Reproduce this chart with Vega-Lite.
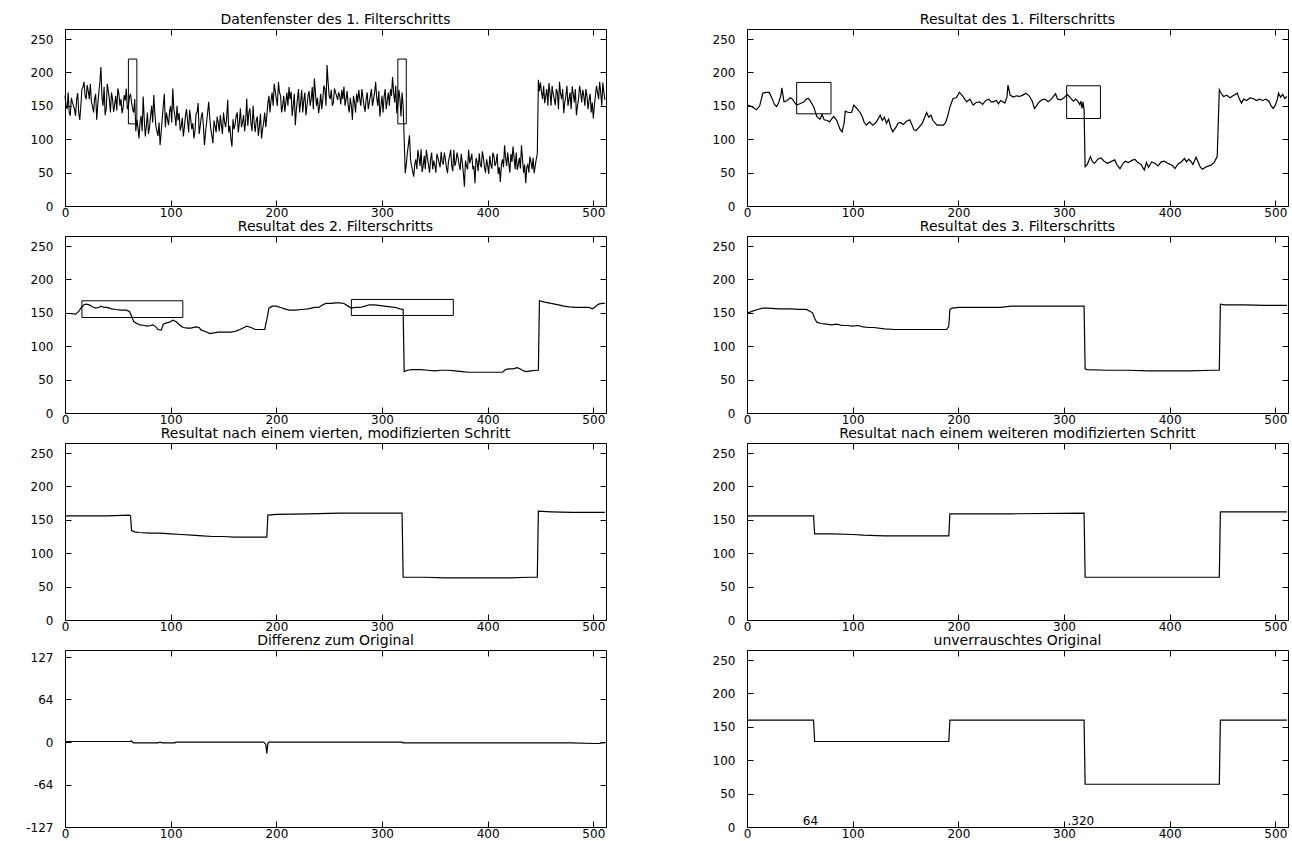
{
"$schema": "https://vega.github.io/schema/vega-lite/v6.json",
"padding": {"left": 25, "top": 12, "right": 5, "bottom": 5},
"background": "white",
"datasets": {
"p1": [{"x":0,"y":165},{"x":1,"y":150},{"x":2,"y":145},{"x":3,"y":170},{"x":4,"y":140},{"x":5,"y":135},{"x":6,"y":162},{"x":7,"y":155},{"x":8,"y":150},{"x":9,"y":145},{"x":10,"y":135},{"x":11,"y":160},{"x":12,"y":169},{"x":13,"y":140},{"x":14,"y":129},{"x":15,"y":150},{"x":16,"y":175},{"x":17,"y":178},{"x":18,"y":186},{"x":19,"y":165},{"x":20,"y":160},{"x":21,"y":181},{"x":22,"y":172},{"x":23,"y":160},{"x":24,"y":183},{"x":25,"y":155},{"x":26,"y":150},{"x":27,"y":140},{"x":28,"y":160},{"x":29,"y":168},{"x":30,"y":129},{"x":31,"y":152},{"x":32,"y":170},{"x":33,"y":185},{"x":34,"y":208},{"x":35,"y":162},{"x":36,"y":150},{"x":37,"y":178},{"x":38,"y":136},{"x":39,"y":145},{"x":40,"y":183},{"x":41,"y":172},{"x":42,"y":160},{"x":43,"y":140},{"x":44,"y":170},{"x":45,"y":160},{"x":46,"y":141},{"x":47,"y":152},{"x":48,"y":165},{"x":49,"y":143},{"x":50,"y":176},{"x":51,"y":168},{"x":52,"y":150},{"x":53,"y":160},{"x":54,"y":139},{"x":55,"y":147},{"x":56,"y":166},{"x":57,"y":158},{"x":58,"y":176},{"x":59,"y":145},{"x":60,"y":150},{"x":61,"y":163},{"x":62,"y":168},{"x":63,"y":155},{"x":64,"y":145},{"x":65,"y":140},{"x":66,"y":160},{"x":67,"y":112},{"x":68,"y":129},{"x":69,"y":118},{"x":70,"y":101},{"x":71,"y":125},{"x":72,"y":135},{"x":73,"y":112},{"x":74,"y":164},{"x":75,"y":130},{"x":76,"y":104},{"x":77,"y":120},{"x":78,"y":140},{"x":79,"y":108},{"x":80,"y":118},{"x":81,"y":135},{"x":82,"y":150},{"x":83,"y":125},{"x":84,"y":166},{"x":85,"y":140},{"x":86,"y":120},{"x":87,"y":112},{"x":88,"y":105},{"x":89,"y":125},{"x":90,"y":91},{"x":91,"y":110},{"x":92,"y":130},{"x":93,"y":150},{"x":94,"y":168},{"x":95,"y":118},{"x":96,"y":140},{"x":97,"y":130},{"x":98,"y":121},{"x":99,"y":142},{"x":100,"y":150},{"x":101,"y":125},{"x":102,"y":176},{"x":103,"y":145},{"x":104,"y":135},{"x":105,"y":120},{"x":106,"y":150},{"x":107,"y":128},{"x":108,"y":139},{"x":109,"y":113},{"x":110,"y":120},{"x":111,"y":132},{"x":112,"y":104},{"x":113,"y":118},{"x":114,"y":135},{"x":115,"y":145},{"x":116,"y":128},{"x":117,"y":110},{"x":118,"y":144},{"x":119,"y":130},{"x":120,"y":115},{"x":121,"y":124},{"x":122,"y":101},{"x":123,"y":112},{"x":124,"y":138},{"x":125,"y":140},{"x":126,"y":154},{"x":127,"y":108},{"x":128,"y":120},{"x":129,"y":134},{"x":130,"y":140},{"x":131,"y":120},{"x":132,"y":91},{"x":133,"y":110},{"x":134,"y":125},{"x":135,"y":140},{"x":136,"y":156},{"x":137,"y":132},{"x":138,"y":115},{"x":139,"y":105},{"x":140,"y":94},{"x":141,"y":128},{"x":142,"y":120},{"x":143,"y":110},{"x":144,"y":134},{"x":145,"y":125},{"x":146,"y":112},{"x":147,"y":136},{"x":148,"y":121},{"x":149,"y":108},{"x":150,"y":140},{"x":151,"y":126},{"x":152,"y":118},{"x":153,"y":132},{"x":154,"y":159},{"x":155,"y":110},{"x":156,"y":120},{"x":157,"y":100},{"x":158,"y":89},{"x":159,"y":130},{"x":160,"y":115},{"x":161,"y":122},{"x":162,"y":135},{"x":163,"y":140},{"x":164,"y":110},{"x":165,"y":125},{"x":166,"y":146},{"x":167,"y":118},{"x":168,"y":125},{"x":169,"y":136},{"x":170,"y":112},{"x":171,"y":128},{"x":172,"y":161},{"x":173,"y":120},{"x":174,"y":140},{"x":175,"y":146},{"x":176,"y":124},{"x":177,"y":112},{"x":178,"y":150},{"x":179,"y":125},{"x":180,"y":111},{"x":181,"y":128},{"x":182,"y":134},{"x":183,"y":105},{"x":184,"y":120},{"x":185,"y":138},{"x":186,"y":101},{"x":187,"y":115},{"x":188,"y":125},{"x":189,"y":140},{"x":190,"y":118},{"x":191,"y":135},{"x":192,"y":154},{"x":193,"y":165},{"x":194,"y":140},{"x":195,"y":158},{"x":196,"y":170},{"x":197,"y":150},{"x":198,"y":183},{"x":199,"y":172},{"x":200,"y":160},{"x":201,"y":150},{"x":202,"y":186},{"x":203,"y":170},{"x":204,"y":165},{"x":205,"y":140},{"x":206,"y":150},{"x":207,"y":165},{"x":208,"y":141},{"x":209,"y":155},{"x":210,"y":170},{"x":211,"y":150},{"x":212,"y":178},{"x":213,"y":160},{"x":214,"y":171},{"x":215,"y":135},{"x":216,"y":150},{"x":217,"y":168},{"x":218,"y":121},{"x":219,"y":145},{"x":220,"y":160},{"x":221,"y":175},{"x":222,"y":140},{"x":223,"y":155},{"x":224,"y":174},{"x":225,"y":140},{"x":226,"y":158},{"x":227,"y":170},{"x":228,"y":136},{"x":229,"y":150},{"x":230,"y":165},{"x":231,"y":172},{"x":232,"y":150},{"x":233,"y":160},{"x":234,"y":178},{"x":235,"y":145},{"x":236,"y":191},{"x":237,"y":170},{"x":238,"y":150},{"x":239,"y":162},{"x":240,"y":139},{"x":241,"y":150},{"x":242,"y":168},{"x":243,"y":145},{"x":244,"y":160},{"x":245,"y":180},{"x":246,"y":175},{"x":247,"y":150},{"x":248,"y":211},{"x":249,"y":185},{"x":250,"y":165},{"x":251,"y":160},{"x":252,"y":174},{"x":253,"y":150},{"x":254,"y":155},{"x":255,"y":176},{"x":256,"y":170},{"x":257,"y":165},{"x":258,"y":159},{"x":259,"y":170},{"x":260,"y":165},{"x":261,"y":152},{"x":262,"y":174},{"x":263,"y":160},{"x":264,"y":179},{"x":265,"y":150},{"x":266,"y":160},{"x":267,"y":172},{"x":268,"y":150},{"x":269,"y":140},{"x":270,"y":162},{"x":271,"y":150},{"x":272,"y":129},{"x":273,"y":165},{"x":274,"y":155},{"x":275,"y":140},{"x":276,"y":168},{"x":277,"y":155},{"x":278,"y":174},{"x":279,"y":160},{"x":280,"y":150},{"x":281,"y":175},{"x":282,"y":162},{"x":283,"y":150},{"x":284,"y":141},{"x":285,"y":160},{"x":286,"y":170},{"x":287,"y":145},{"x":288,"y":155},{"x":289,"y":165},{"x":290,"y":175},{"x":291,"y":150},{"x":292,"y":160},{"x":293,"y":170},{"x":294,"y":186},{"x":295,"y":162},{"x":296,"y":150},{"x":297,"y":172},{"x":298,"y":134},{"x":299,"y":150},{"x":300,"y":165},{"x":301,"y":140},{"x":302,"y":164},{"x":303,"y":175},{"x":304,"y":145},{"x":305,"y":158},{"x":306,"y":170},{"x":307,"y":150},{"x":308,"y":175},{"x":309,"y":165},{"x":310,"y":193},{"x":311,"y":170},{"x":312,"y":155},{"x":313,"y":180},{"x":314,"y":139},{"x":315,"y":150},{"x":316,"y":174},{"x":317,"y":160},{"x":318,"y":134},{"x":319,"y":170},{"x":320,"y":150},{"x":321,"y":100},{"x":322,"y":49},{"x":323,"y":62},{"x":324,"y":80},{"x":325,"y":92},{"x":326,"y":106},{"x":327,"y":70},{"x":328,"y":60},{"x":329,"y":52},{"x":330,"y":44},{"x":331,"y":62},{"x":332,"y":70},{"x":333,"y":55},{"x":334,"y":84},{"x":335,"y":72},{"x":336,"y":60},{"x":337,"y":85},{"x":338,"y":51},{"x":339,"y":60},{"x":340,"y":75},{"x":341,"y":55},{"x":342,"y":84},{"x":343,"y":72},{"x":344,"y":62},{"x":345,"y":50},{"x":346,"y":70},{"x":347,"y":80},{"x":348,"y":55},{"x":349,"y":68},{"x":350,"y":61},{"x":351,"y":50},{"x":352,"y":78},{"x":353,"y":72},{"x":354,"y":65},{"x":355,"y":58},{"x":356,"y":81},{"x":357,"y":66},{"x":358,"y":62},{"x":359,"y":80},{"x":360,"y":70},{"x":361,"y":58},{"x":362,"y":49},{"x":363,"y":68},{"x":364,"y":75},{"x":365,"y":84},{"x":366,"y":60},{"x":367,"y":52},{"x":368,"y":84},{"x":369,"y":60},{"x":370,"y":66},{"x":371,"y":80},{"x":372,"y":72},{"x":373,"y":62},{"x":374,"y":54},{"x":375,"y":78},{"x":376,"y":65},{"x":377,"y":50},{"x":378,"y":29},{"x":379,"y":68},{"x":380,"y":60},{"x":381,"y":55},{"x":382,"y":84},{"x":383,"y":64},{"x":384,"y":70},{"x":385,"y":78},{"x":386,"y":55},{"x":387,"y":60},{"x":388,"y":34},{"x":389,"y":72},{"x":390,"y":66},{"x":391,"y":52},{"x":392,"y":79},{"x":393,"y":62},{"x":394,"y":58},{"x":395,"y":82},{"x":396,"y":72},{"x":397,"y":58},{"x":398,"y":50},{"x":399,"y":70},{"x":400,"y":61},{"x":401,"y":48},{"x":402,"y":75},{"x":403,"y":62},{"x":404,"y":56},{"x":405,"y":80},{"x":406,"y":74},{"x":407,"y":60},{"x":408,"y":65},{"x":409,"y":78},{"x":410,"y":48},{"x":411,"y":58},{"x":412,"y":36},{"x":413,"y":62},{"x":414,"y":70},{"x":415,"y":58},{"x":416,"y":91},{"x":417,"y":72},{"x":418,"y":60},{"x":419,"y":80},{"x":420,"y":64},{"x":421,"y":50},{"x":422,"y":78},{"x":423,"y":66},{"x":424,"y":89},{"x":425,"y":72},{"x":426,"y":55},{"x":427,"y":80},{"x":428,"y":54},{"x":429,"y":62},{"x":430,"y":72},{"x":431,"y":56},{"x":432,"y":91},{"x":433,"y":70},{"x":434,"y":50},{"x":435,"y":62},{"x":436,"y":34},{"x":437,"y":58},{"x":438,"y":62},{"x":439,"y":50},{"x":440,"y":74},{"x":441,"y":66},{"x":442,"y":55},{"x":443,"y":72},{"x":444,"y":49},{"x":445,"y":60},{"x":446,"y":70},{"x":447,"y":79},{"x":448,"y":189},{"x":449,"y":172},{"x":450,"y":185},{"x":451,"y":170},{"x":452,"y":160},{"x":453,"y":180},{"x":454,"y":154},{"x":455,"y":165},{"x":456,"y":175},{"x":457,"y":150},{"x":458,"y":184},{"x":459,"y":170},{"x":460,"y":150},{"x":461,"y":180},{"x":462,"y":168},{"x":463,"y":160},{"x":464,"y":151},{"x":465,"y":175},{"x":466,"y":170},{"x":467,"y":145},{"x":468,"y":186},{"x":469,"y":168},{"x":470,"y":160},{"x":471,"y":175},{"x":472,"y":139},{"x":473,"y":155},{"x":474,"y":165},{"x":475,"y":180},{"x":476,"y":150},{"x":477,"y":160},{"x":478,"y":170},{"x":479,"y":145},{"x":480,"y":179},{"x":481,"y":168},{"x":482,"y":155},{"x":483,"y":175},{"x":484,"y":136},{"x":485,"y":150},{"x":486,"y":160},{"x":487,"y":180},{"x":488,"y":170},{"x":489,"y":155},{"x":490,"y":174},{"x":491,"y":165},{"x":492,"y":150},{"x":493,"y":175},{"x":494,"y":165},{"x":495,"y":145},{"x":496,"y":159},{"x":497,"y":168},{"x":498,"y":140},{"x":499,"y":155},{"x":500,"y":131},{"x":501,"y":150},{"x":502,"y":165},{"x":503,"y":180},{"x":504,"y":170},{"x":505,"y":160},{"x":506,"y":186},{"x":507,"y":170},{"x":508,"y":150},{"x":509,"y":185},{"x":510,"y":170},{"x":511,"y":159}],
"p2": [{"x":0,"y":151},{"x":3,"y":150},{"x":6,"y":147},{"x":9,"y":144},{"x":12,"y":150},{"x":15,"y":169},{"x":18,"y":170},{"x":21,"y":170},{"x":24,"y":160},{"x":26,"y":152},{"x":28,"y":149},{"x":30,"y":155},{"x":32,"y":165},{"x":33,"y":177},{"x":35,"y":156},{"x":38,"y":158},{"x":41,"y":162},{"x":43,"y":160},{"x":45,"y":155},{"x":47,"y":151},{"x":50,"y":153},{"x":54,"y":156},{"x":56,"y":160},{"x":58,"y":161},{"x":60,"y":157},{"x":63,"y":149},{"x":66,"y":134},{"x":69,"y":130},{"x":71,"y":137},{"x":73,"y":129},{"x":76,"y":128},{"x":78,"y":126},{"x":80,"y":130},{"x":82,"y":134},{"x":85,"y":128},{"x":88,"y":115},{"x":90,"y":111},{"x":92,"y":125},{"x":93,"y":142},{"x":96,"y":140},{"x":99,"y":140},{"x":101,"y":151},{"x":104,"y":146},{"x":107,"y":140},{"x":109,"y":134},{"x":111,"y":125},{"x":113,"y":121},{"x":116,"y":126},{"x":119,"y":121},{"x":122,"y":125},{"x":124,"y":130},{"x":126,"y":136},{"x":128,"y":128},{"x":130,"y":133},{"x":132,"y":124},{"x":134,"y":130},{"x":136,"y":118},{"x":138,"y":111},{"x":141,"y":118},{"x":143,"y":124},{"x":145,"y":125},{"x":148,"y":122},{"x":151,"y":127},{"x":154,"y":129},{"x":156,"y":122},{"x":158,"y":114},{"x":160,"y":113},{"x":163,"y":118},{"x":166,"y":124},{"x":168,"y":132},{"x":170,"y":140},{"x":172,"y":133},{"x":174,"y":136},{"x":176,"y":128},{"x":178,"y":124},{"x":180,"y":121},{"x":183,"y":121},{"x":186,"y":121},{"x":188,"y":125},{"x":190,"y":135},{"x":192,"y":148},{"x":195,"y":161},{"x":198,"y":162},{"x":201,"y":170},{"x":204,"y":165},{"x":206,"y":160},{"x":208,"y":156},{"x":211,"y":160},{"x":214,"y":151},{"x":217,"y":155},{"x":220,"y":156},{"x":223,"y":152},{"x":226,"y":158},{"x":229,"y":160},{"x":231,"y":156},{"x":233,"y":156},{"x":236,"y":158},{"x":238,"y":153},{"x":240,"y":158},{"x":242,"y":156},{"x":244,"y":154},{"x":246,"y":163},{"x":247,"y":181},{"x":249,"y":166},{"x":252,"y":163},{"x":255,"y":165},{"x":258,"y":164},{"x":261,"y":166},{"x":264,"y":169},{"x":267,"y":165},{"x":270,"y":157},{"x":272,"y":146},{"x":274,"y":150},{"x":276,"y":155},{"x":279,"y":159},{"x":282,"y":160},{"x":285,"y":156},{"x":288,"y":160},{"x":290,"y":164},{"x":292,"y":168},{"x":294,"y":160},{"x":297,"y":159},{"x":300,"y":162},{"x":303,"y":167},{"x":305,"y":164},{"x":307,"y":160},{"x":309,"y":157},{"x":311,"y":160},{"x":313,"y":157},{"x":315,"y":152},{"x":316,"y":157},{"x":317,"y":146},{"x":318,"y":156},{"x":319,"y":144},{"x":320,"y":59},{"x":322,"y":62},{"x":325,"y":74},{"x":327,"y":66},{"x":329,"y":64},{"x":332,"y":70},{"x":335,"y":72},{"x":338,"y":67},{"x":341,"y":64},{"x":344,"y":66},{"x":348,"y":69},{"x":350,"y":62},{"x":353,"y":56},{"x":356,"y":64},{"x":358,"y":67},{"x":361,"y":65},{"x":364,"y":68},{"x":367,"y":70},{"x":370,"y":65},{"x":373,"y":62},{"x":376,"y":54},{"x":378,"y":65},{"x":380,"y":58},{"x":383,"y":66},{"x":386,"y":64},{"x":389,"y":60},{"x":392,"y":66},{"x":395,"y":67},{"x":398,"y":64},{"x":401,"y":62},{"x":403,"y":60},{"x":405,"y":56},{"x":408,"y":63},{"x":411,"y":66},{"x":414,"y":71},{"x":416,"y":66},{"x":418,"y":70},{"x":420,"y":67},{"x":422,"y":62},{"x":425,"y":73},{"x":427,"y":66},{"x":429,"y":58},{"x":431,"y":55},{"x":434,"y":58},{"x":437,"y":60},{"x":439,"y":61},{"x":442,"y":65},{"x":445,"y":74},{"x":447,"y":174},{"x":449,"y":168},{"x":451,"y":164},{"x":454,"y":166},{"x":457,"y":162},{"x":460,"y":165},{"x":464,"y":169},{"x":466,"y":160},{"x":468,"y":154},{"x":470,"y":160},{"x":473,"y":158},{"x":476,"y":162},{"x":479,"y":161},{"x":482,"y":158},{"x":485,"y":160},{"x":488,"y":158},{"x":491,"y":160},{"x":494,"y":157},{"x":496,"y":150},{"x":498,"y":146},{"x":500,"y":151},{"x":502,"y":160},{"x":503,"y":169},{"x":505,"y":163},{"x":507,"y":167},{"x":509,"y":161},{"x":511,"y":164}],
"p3": [{"x":0,"y":149},{"x":5,"y":149},{"x":10,"y":148},{"x":13,"y":152},{"x":15,"y":157},{"x":18,"y":162},{"x":20,"y":163},{"x":23,"y":162},{"x":26,"y":159},{"x":29,"y":157},{"x":32,"y":158},{"x":34,"y":160},{"x":37,"y":158},{"x":40,"y":158},{"x":44,"y":156},{"x":48,"y":155},{"x":53,"y":154},{"x":58,"y":154},{"x":61,"y":152},{"x":63,"y":145},{"x":65,"y":137},{"x":68,"y":134},{"x":71,"y":132},{"x":75,"y":131},{"x":78,"y":130},{"x":81,"y":131},{"x":83,"y":132},{"x":86,"y":129},{"x":88,"y":125},{"x":91,"y":124},{"x":92,"y":128},{"x":93,"y":133},{"x":96,"y":135},{"x":99,"y":136},{"x":102,"y":139},{"x":105,"y":137},{"x":107,"y":134},{"x":110,"y":130},{"x":112,"y":128},{"x":116,"y":127},{"x":119,"y":127},{"x":124,"y":129},{"x":127,"y":128},{"x":129,"y":124},{"x":133,"y":122},{"x":137,"y":119},{"x":141,"y":120},{"x":145,"y":121},{"x":150,"y":121},{"x":157,"y":121},{"x":161,"y":122},{"x":164,"y":124},{"x":168,"y":127},{"x":172,"y":130},{"x":176,"y":128},{"x":180,"y":125},{"x":185,"y":125},{"x":189,"y":125},{"x":191,"y":140},{"x":193,"y":157},{"x":196,"y":160},{"x":200,"y":160},{"x":204,"y":158},{"x":208,"y":156},{"x":212,"y":154},{"x":218,"y":154},{"x":224,"y":155},{"x":230,"y":156},{"x":236,"y":158},{"x":240,"y":158},{"x":244,"y":162},{"x":247,"y":164},{"x":252,"y":164},{"x":256,"y":165},{"x":260,"y":165},{"x":264,"y":164},{"x":268,"y":160},{"x":271,"y":157},{"x":275,"y":158},{"x":279,"y":158},{"x":284,"y":160},{"x":288,"y":162},{"x":292,"y":162},{"x":297,"y":161},{"x":302,"y":160},{"x":308,"y":159},{"x":313,"y":158},{"x":317,"y":156},{"x":320,"y":155},{"x":321,"y":62},{"x":324,"y":64},{"x":328,"y":65},{"x":333,"y":65},{"x":337,"y":65},{"x":343,"y":64},{"x":350,"y":63},{"x":356,"y":64},{"x":363,"y":64},{"x":369,"y":63},{"x":376,"y":62},{"x":382,"y":61},{"x":388,"y":61},{"x":395,"y":61},{"x":401,"y":61},{"x":408,"y":61},{"x":414,"y":61},{"x":417,"y":65},{"x":420,"y":66},{"x":424,"y":66},{"x":428,"y":68},{"x":431,"y":66},{"x":434,"y":63},{"x":437,"y":62},{"x":441,"y":63},{"x":446,"y":64},{"x":448,"y":64},{"x":449,"y":168},{"x":454,"y":166},{"x":460,"y":164},{"x":467,"y":162},{"x":472,"y":160},{"x":477,"y":159},{"x":484,"y":158},{"x":490,"y":158},{"x":496,"y":158},{"x":499,"y":156},{"x":502,"y":159},{"x":505,"y":163},{"x":508,"y":164},{"x":511,"y":164}],
"p4": [{"x":0,"y":150},{"x":3,"y":151},{"x":6,"y":153},{"x":10,"y":155},{"x":15,"y":157},{"x":20,"y":157},{"x":30,"y":156},{"x":40,"y":156},{"x":50,"y":155},{"x":56,"y":155},{"x":60,"y":152},{"x":62,"y":150},{"x":64,"y":142},{"x":66,"y":136},{"x":70,"y":134},{"x":75,"y":133},{"x":80,"y":132},{"x":85,"y":133},{"x":90,"y":131},{"x":95,"y":131},{"x":100,"y":130},{"x":105,"y":131},{"x":110,"y":129},{"x":115,"y":128},{"x":120,"y":128},{"x":130,"y":126},{"x":140,"y":125},{"x":150,"y":125},{"x":160,"y":125},{"x":170,"y":125},{"x":180,"y":125},{"x":189,"y":125},{"x":191,"y":130},{"x":192,"y":155},{"x":194,"y":157},{"x":200,"y":158},{"x":220,"y":158},{"x":240,"y":158},{"x":250,"y":160},{"x":280,"y":160},{"x":300,"y":160},{"x":319,"y":160},{"x":320,"y":66},{"x":322,"y":65},{"x":340,"y":64},{"x":360,"y":64},{"x":380,"y":63},{"x":400,"y":63},{"x":420,"y":63},{"x":440,"y":64},{"x":447,"y":64},{"x":448,"y":163},{"x":452,"y":162},{"x":470,"y":162},{"x":490,"y":161},{"x":511,"y":161}],
"p5": [{"x":0,"y":156},{"x":20,"y":156},{"x":40,"y":156},{"x":61,"y":157},{"x":62,"y":156},{"x":63,"y":134},{"x":66,"y":132},{"x":70,"y":131},{"x":80,"y":130},{"x":90,"y":130},{"x":100,"y":129},{"x":110,"y":128},{"x":120,"y":127},{"x":130,"y":126},{"x":140,"y":125},{"x":150,"y":125},{"x":160,"y":124},{"x":170,"y":124},{"x":180,"y":124},{"x":190,"y":124},{"x":191,"y":124},{"x":192,"y":157},{"x":200,"y":158},{"x":230,"y":159},{"x":260,"y":160},{"x":290,"y":160},{"x":319,"y":160},{"x":320,"y":64},{"x":340,"y":64},{"x":360,"y":63},{"x":380,"y":63},{"x":400,"y":63},{"x":420,"y":63},{"x":440,"y":64},{"x":447,"y":64},{"x":448,"y":163},{"x":460,"y":162},{"x":480,"y":161},{"x":511,"y":161}],
"p6": [{"x":0,"y":156},{"x":63,"y":156},{"x":64,"y":129},{"x":80,"y":129},{"x":100,"y":128},{"x":110,"y":127},{"x":130,"y":126},{"x":190,"y":126},{"x":191,"y":126},{"x":192,"y":159},{"x":250,"y":159},{"x":319,"y":160},{"x":320,"y":64},{"x":447,"y":64},{"x":448,"y":162},{"x":511,"y":162}],
"p7": [{"x":0,"y":1},{"x":60,"y":1},{"x":62,"y":1},{"x":63,"y":2},{"x":64,"y":0},{"x":65,"y":-1},{"x":80,"y":-1},{"x":88,"y":-1},{"x":90,"y":0},{"x":92,"y":-1},{"x":100,"y":-1},{"x":104,"y":-1},{"x":105,"y":0},{"x":150,"y":0},{"x":188,"y":0},{"x":190,"y":-3},{"x":191,"y":-17},{"x":192,"y":-2},{"x":193,"y":0},{"x":250,"y":0},{"x":319,"y":0},{"x":320,"y":-1},{"x":400,"y":-1},{"x":447,"y":-1},{"x":448,"y":-1},{"x":480,"y":-1},{"x":500,"y":-2},{"x":505,"y":-2},{"x":508,"y":-1},{"x":511,"y":-1}],
"p8": [{"x":0,"y":160},{"x":63,"y":160},{"x":64,"y":128},{"x":191,"y":128},{"x":192,"y":160},{"x":319,"y":160},{"x":320,"y":64},{"x":447,"y":64},{"x":448,"y":160},{"x":511,"y":160}],
"b1": [{"x1":60,"x2":68,"y1":123,"y2":220},{"x1":315,"x2":323,"y1":123,"y2":220}],
"b2": [{"x1":47,"x2":79.5,"y1":138,"y2":185},{"x1":302.5,"x2":334.5,"y1":131,"y2":180}],
"b3": [{"x1":16,"x2":111.5,"y1":143,"y2":168},{"x1":271,"x2":367.5,"y1":146,"y2":170}],
"t8": [{"x":60,"y":3,"label":"64"},{"x":316,"y":3,"label":".320"}]
},
"config": {
  "view": {"stroke": "black", "strokeWidth": 1},
  "font": "DejaVu Sans",
  "title": {"font": "DejaVu Sans", "fontSize": 14, "fontWeight": "normal", "color": "black", "offset": 2},
  "axis": {"domain": false, "grid": false, "ticks": true, "tickSize": 6, "offset": -6, "tickColor": "black", "tickWidth": 1, "labelFont": "DejaVu Sans", "labelFontSize": 12, "labelColor": "black", "labelFlush": false, "labelOverlap": false, "title": null},
  "axisX": {"labelPadding": 1},
  "axisY": {"labelPadding": 12},
  "line": {"color": "black", "strokeWidth": 1.2}
},
"columns": 2,
"spacing": {"row": 30, "column": 141},
"bounds": "flush",
"concat": [
 {"title": "Datenfenster des 1. Filterschritts", "width": 541, "height": 177,
  "resolve": {"axis": {"x": "independent", "y": "independent"}},
  "layer": [
   {"data": {"name": "p1"}, "mark": {"type": "line", "strokeWidth": 1.1},
    "encoding": {"x": {"field": "x", "type": "quantitative", "scale": {"domain": [0, 512], "nice": false, "zero": false}, "axis": {"orient": "bottom", "values": [0,100,200,300,400,500], "title": null}},
                 "y": {"field": "y", "type": "quantitative", "scale": {"domain": [0, 265], "nice": false, "zero": false}, "axis": {"orient": "left", "values": [0,50,100,150,200,250], "title": null}}}},
   {"data": {"name": "p1"}, "mark": {"type": "line", "opacity": 0},
    "encoding": {"x": {"field": "x", "type": "quantitative", "scale": {"domain": [0, 512], "nice": false, "zero": false}, "axis": {"orient": "top", "labels": false, "values": [0,100,200,300,400,500], "title": null}},
                 "y": {"field": "y", "type": "quantitative", "scale": {"domain": [0, 265], "nice": false, "zero": false}, "axis": {"orient": "right", "labels": false, "values": [0,50,100,150,200,250], "title": null}}}},
   {"data": {"name": "b1"}, "mark": {"type": "rect", "fillOpacity": 0, "stroke": "black", "strokeWidth": 1},
    "encoding": {"x": {"field": "x1", "type": "quantitative", "scale": {"domain": [0, 512], "nice": false, "zero": false}, "axis": null}, "x2": {"field": "x2"},
                 "y": {"field": "y1", "type": "quantitative", "scale": {"domain": [0, 265], "nice": false, "zero": false}, "axis": null}, "y2": {"field": "y2"}}}
  ]},
 {"title": "Resultat des 1. Filterschritts", "width": 541, "height": 177,
  "resolve": {"axis": {"x": "independent", "y": "independent"}},
  "layer": [
   {"data": {"name": "p2"}, "mark": {"type": "line"},
    "encoding": {"x": {"field": "x", "type": "quantitative", "scale": {"domain": [0, 512], "nice": false, "zero": false}, "axis": {"orient": "bottom", "values": [0,100,200,300,400,500], "title": null}},
                 "y": {"field": "y", "type": "quantitative", "scale": {"domain": [0, 265], "nice": false, "zero": false}, "axis": {"orient": "left", "values": [0,50,100,150,200,250], "title": null}}}},
   {"data": {"name": "p2"}, "mark": {"type": "line", "opacity": 0},
    "encoding": {"x": {"field": "x", "type": "quantitative", "scale": {"domain": [0, 512], "nice": false, "zero": false}, "axis": {"orient": "top", "labels": false, "values": [0,100,200,300,400,500], "title": null}},
                 "y": {"field": "y", "type": "quantitative", "scale": {"domain": [0, 265], "nice": false, "zero": false}, "axis": {"orient": "right", "labels": false, "values": [0,50,100,150,200,250], "title": null}}}},
   {"data": {"name": "b2"}, "mark": {"type": "rect", "fillOpacity": 0, "stroke": "black", "strokeWidth": 1},
    "encoding": {"x": {"field": "x1", "type": "quantitative", "scale": {"domain": [0, 512], "nice": false, "zero": false}, "axis": null}, "x2": {"field": "x2"},
                 "y": {"field": "y1", "type": "quantitative", "scale": {"domain": [0, 265], "nice": false, "zero": false}, "axis": null}, "y2": {"field": "y2"}}}
  ]},
 {"title": "Resultat des 2. Filterschritts", "width": 541, "height": 177,
  "resolve": {"axis": {"x": "independent", "y": "independent"}},
  "layer": [
   {"data": {"name": "p3"}, "mark": {"type": "line"},
    "encoding": {"x": {"field": "x", "type": "quantitative", "scale": {"domain": [0, 512], "nice": false, "zero": false}, "axis": {"orient": "bottom", "values": [0,100,200,300,400,500], "title": null}},
                 "y": {"field": "y", "type": "quantitative", "scale": {"domain": [0, 265], "nice": false, "zero": false}, "axis": {"orient": "left", "values": [0,50,100,150,200,250], "title": null}}}},
   {"data": {"name": "p3"}, "mark": {"type": "line", "opacity": 0},
    "encoding": {"x": {"field": "x", "type": "quantitative", "scale": {"domain": [0, 512], "nice": false, "zero": false}, "axis": {"orient": "top", "labels": false, "values": [0,100,200,300,400,500], "title": null}},
                 "y": {"field": "y", "type": "quantitative", "scale": {"domain": [0, 265], "nice": false, "zero": false}, "axis": {"orient": "right", "labels": false, "values": [0,50,100,150,200,250], "title": null}}}},
   {"data": {"name": "b3"}, "mark": {"type": "rect", "fillOpacity": 0, "stroke": "black", "strokeWidth": 1},
    "encoding": {"x": {"field": "x1", "type": "quantitative", "scale": {"domain": [0, 512], "nice": false, "zero": false}, "axis": null}, "x2": {"field": "x2"},
                 "y": {"field": "y1", "type": "quantitative", "scale": {"domain": [0, 265], "nice": false, "zero": false}, "axis": null}, "y2": {"field": "y2"}}}
  ]},
 {"title": "Resultat des 3. Filterschritts", "width": 541, "height": 177,
  "resolve": {"axis": {"x": "independent", "y": "independent"}},
  "layer": [
   {"data": {"name": "p4"}, "mark": {"type": "line"},
    "encoding": {"x": {"field": "x", "type": "quantitative", "scale": {"domain": [0, 512], "nice": false, "zero": false}, "axis": {"orient": "bottom", "values": [0,100,200,300,400,500], "title": null}},
                 "y": {"field": "y", "type": "quantitative", "scale": {"domain": [0, 265], "nice": false, "zero": false}, "axis": {"orient": "left", "values": [0,50,100,150,200,250], "title": null}}}},
   {"data": {"name": "p4"}, "mark": {"type": "line", "opacity": 0},
    "encoding": {"x": {"field": "x", "type": "quantitative", "scale": {"domain": [0, 512], "nice": false, "zero": false}, "axis": {"orient": "top", "labels": false, "values": [0,100,200,300,400,500], "title": null}},
                 "y": {"field": "y", "type": "quantitative", "scale": {"domain": [0, 265], "nice": false, "zero": false}, "axis": {"orient": "right", "labels": false, "values": [0,50,100,150,200,250], "title": null}}}}
  ]},
 {"title": "Resultat nach einem vierten, modifizierten Schritt", "width": 541, "height": 177,
  "resolve": {"axis": {"x": "independent", "y": "independent"}},
  "layer": [
   {"data": {"name": "p5"}, "mark": {"type": "line"},
    "encoding": {"x": {"field": "x", "type": "quantitative", "scale": {"domain": [0, 512], "nice": false, "zero": false}, "axis": {"orient": "bottom", "values": [0,100,200,300,400,500], "title": null}},
                 "y": {"field": "y", "type": "quantitative", "scale": {"domain": [0, 265], "nice": false, "zero": false}, "axis": {"orient": "left", "values": [0,50,100,150,200,250], "title": null}}}},
   {"data": {"name": "p5"}, "mark": {"type": "line", "opacity": 0},
    "encoding": {"x": {"field": "x", "type": "quantitative", "scale": {"domain": [0, 512], "nice": false, "zero": false}, "axis": {"orient": "top", "labels": false, "values": [0,100,200,300,400,500], "title": null}},
                 "y": {"field": "y", "type": "quantitative", "scale": {"domain": [0, 265], "nice": false, "zero": false}, "axis": {"orient": "right", "labels": false, "values": [0,50,100,150,200,250], "title": null}}}}
  ]},
 {"title": "Resultat nach einem weiteren modifizierten Schritt", "width": 541, "height": 177,
  "resolve": {"axis": {"x": "independent", "y": "independent"}},
  "layer": [
   {"data": {"name": "p6"}, "mark": {"type": "line"},
    "encoding": {"x": {"field": "x", "type": "quantitative", "scale": {"domain": [0, 512], "nice": false, "zero": false}, "axis": {"orient": "bottom", "values": [0,100,200,300,400,500], "title": null}},
                 "y": {"field": "y", "type": "quantitative", "scale": {"domain": [0, 265], "nice": false, "zero": false}, "axis": {"orient": "left", "values": [0,50,100,150,200,250], "title": null}}}},
   {"data": {"name": "p6"}, "mark": {"type": "line", "opacity": 0},
    "encoding": {"x": {"field": "x", "type": "quantitative", "scale": {"domain": [0, 512], "nice": false, "zero": false}, "axis": {"orient": "top", "labels": false, "values": [0,100,200,300,400,500], "title": null}},
                 "y": {"field": "y", "type": "quantitative", "scale": {"domain": [0, 265], "nice": false, "zero": false}, "axis": {"orient": "right", "labels": false, "values": [0,50,100,150,200,250], "title": null}}}}
  ]},
 {"title": "Differenz zum Original", "width": 541, "height": 177,
  "resolve": {"axis": {"x": "independent", "y": "independent"}},
  "layer": [
   {"data": {"name": "p7"}, "mark": {"type": "line"},
    "encoding": {"x": {"field": "x", "type": "quantitative", "scale": {"domain": [0, 512], "nice": false, "zero": false}, "axis": {"orient": "bottom", "values": [0,100,200,300,400,500], "title": null}},
                 "y": {"field": "y", "type": "quantitative", "scale": {"domain": [-127, 138], "nice": false, "zero": false}, "axis": {"orient": "left", "values": [-127,-64,0,64,127], "title": null, "labelExpr": "datum.value < 0 ? '-' + abs(datum.value) : '' + datum.value"}}}},
   {"data": {"name": "p7"}, "mark": {"type": "line", "opacity": 0},
    "encoding": {"x": {"field": "x", "type": "quantitative", "scale": {"domain": [0, 512], "nice": false, "zero": false}, "axis": {"orient": "top", "labels": false, "values": [0,100,200,300,400,500], "title": null}},
                 "y": {"field": "y", "type": "quantitative", "scale": {"domain": [-127, 138], "nice": false, "zero": false}, "axis": {"orient": "right", "labels": false, "values": [-127,-64,0,64,127], "title": null}}}}
  ]},
 {"title": "unverrauschtes Original", "width": 541, "height": 177,
  "resolve": {"axis": {"x": "independent", "y": "independent"}},
  "layer": [
   {"data": {"name": "p8"}, "mark": {"type": "line"},
    "encoding": {"x": {"field": "x", "type": "quantitative", "scale": {"domain": [0, 512], "nice": false, "zero": false}, "axis": {"orient": "bottom", "values": [0,100,200,300,400,500], "title": null}},
                 "y": {"field": "y", "type": "quantitative", "scale": {"domain": [0, 265], "nice": false, "zero": false}, "axis": {"orient": "left", "values": [0,50,100,150,200,250], "title": null}}}},
   {"data": {"name": "p8"}, "mark": {"type": "line", "opacity": 0},
    "encoding": {"x": {"field": "x", "type": "quantitative", "scale": {"domain": [0, 512], "nice": false, "zero": false}, "axis": {"orient": "top", "labels": false, "values": [0,100,200,300,400,500], "title": null}},
                 "y": {"field": "y", "type": "quantitative", "scale": {"domain": [0, 265], "nice": false, "zero": false}, "axis": {"orient": "right", "labels": false, "values": [0,50,100,150,200,250], "title": null}}}},
   {"data": {"name": "t8"}, "mark": {"type": "text", "font": "DejaVu Sans", "fontSize": 12, "color": "black", "align": "center", "baseline": "alphabetic"},
    "encoding": {"x": {"field": "x", "type": "quantitative", "scale": {"domain": [0, 512], "nice": false, "zero": false}, "axis": null},
                 "y": {"field": "y", "type": "quantitative", "scale": {"domain": [0, 265], "nice": false, "zero": false}, "axis": null},
                 "text": {"field": "label"}}}
  ]}
]
}
